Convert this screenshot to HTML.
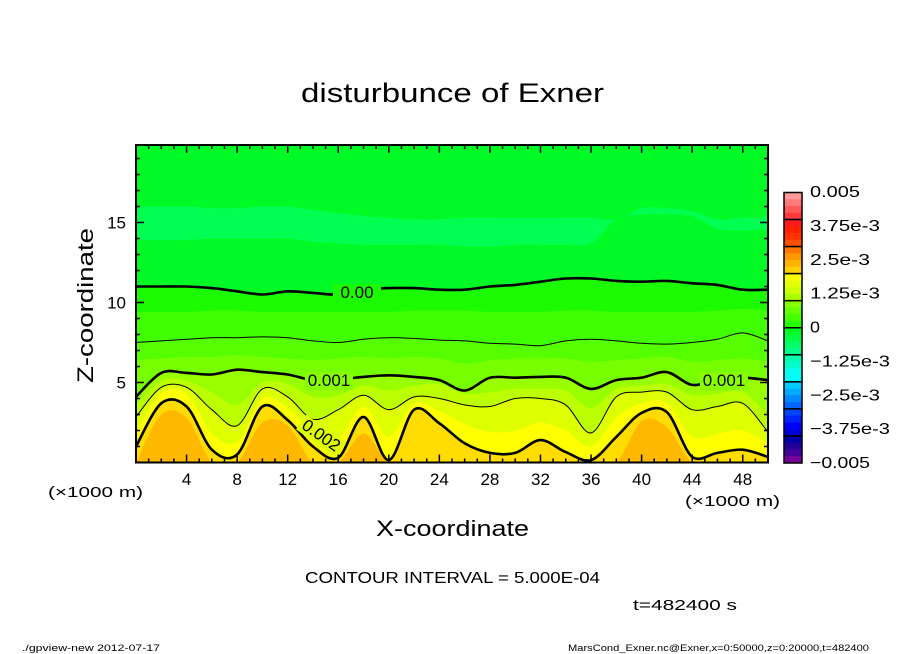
<!DOCTYPE html>
<html><head><meta charset="utf-8">
<style>
html,body{margin:0;padding:0;background:#fff;}
svg{display:block;font-family:"Liberation Sans",sans-serif;}
</style></head>
<body>
<svg id="chart" width="904" height="654" viewBox="0 0 904 654">
<rect x="0" y="0" width="904" height="654" fill="#fff"/>
<text x="301" y="102" textLength="303" lengthAdjust="spacingAndGlyphs" font-size="27">disturbunce of Exner</text>
<g id="field"></g>
<g id="lines"></g>
<g id="clabels"></g>
<g id="axes"></g>
<g id="cbar"></g>
<text x="0" y="0" transform="translate(93,383) rotate(-90)" textLength="155" lengthAdjust="spacingAndGlyphs" font-size="22">Z-coordinate</text>
<text x="376" y="536" textLength="153" lengthAdjust="spacingAndGlyphs" font-size="22">X-coordinate</text>
<text x="48" y="497" textLength="95" lengthAdjust="spacingAndGlyphs" font-size="15">(×1000 m)</text>
<text x="685" y="506" textLength="95" lengthAdjust="spacingAndGlyphs" font-size="15">(×1000 m)</text>
<text x="305" y="583" textLength="295" lengthAdjust="spacingAndGlyphs" font-size="16">CONTOUR INTERVAL = 5.000E-04</text>
<text x="633" y="610" textLength="104" lengthAdjust="spacingAndGlyphs" font-size="15">t=482400 s</text>
<text x="22" y="651" textLength="138" lengthAdjust="spacingAndGlyphs" font-size="9">./gpview-new   2012-07-17</text>
<text x="568" y="651" textLength="301" lengthAdjust="spacingAndGlyphs" font-size="9">MarsCond_Exner.nc@Exner,x=0:50000,z=0:20000,t=482400</text>
</svg>
<script>
// x positions in km (0..50 every 2)
const xs = [0,2,4,6,8,10,12,14,16,18,20,22,24,26,28,30,32,34,36,38,40,42,44,46,48,50];
// contour level heights (km) at each x
const hNegBandTop = [16.0,16.0,16.0,15.9,15.9,16.0,16.0,15.8,15.6,15.4,15.3,15.2,15.2,15.3,15.3,15.3,15.3,15.3,15.3,15.2,15.9,15.9,15.7,15.2,15.3,15.3];
const hNegBandBot = [13.9,13.9,13.9,14.0,14.0,14.0,14.0,13.8,13.7,13.6,13.6,13.6,13.6,13.5,13.5,13.6,13.6,13.6,13.7,15.2,15.5,15.5,15.4,14.6,14.5,14.6];
const h0 = [11.0,11.0,11.0,10.9,10.7,10.5,10.7,10.6,10.5,10.8,10.9,10.9,10.8,10.8,11.0,11.1,11.3,11.5,11.5,11.35,11.3,11.35,11.2,11.1,10.8,10.8];
const h00025 = [9.4,9.4,9.4,9.5,9.5,9.4,9.4,9.4,9.4,9.4,9.4,9.5,9.5,9.5,9.4,9.4,9.4,9.5,9.5,9.4,9.4,9.4,9.4,9.5,9.6,9.5];
const h0005 = [7.5,7.6,7.7,7.8,7.8,7.85,7.8,7.6,7.5,7.7,7.8,7.75,7.65,7.6,7.45,7.4,7.3,7.6,7.7,7.6,7.45,7.4,7.5,7.7,8.1,7.6];
const h00075 = [6.4,6.5,6.6,6.6,6.7,6.6,6.5,6.4,6.5,6.6,6.5,6.6,6.5,6.2,6.4,6.5,6.5,6.5,6.3,6.4,6.5,6.6,6.3,6.4,6.5,6.3];
const h001 = [4.1,5.6,5.6,5.5,5.8,5.65,5.5,5.15,5.2,5.35,5.45,5.35,5.15,4.5,5.3,5.3,5.35,5.3,4.6,5.15,5.3,5.65,4.85,5.2,5.3,5.15];
const h00125 = [3.6,5.1,5.1,4.4,3.6,5.0,4.9,4.1,4.2,4.8,4.5,4.8,4.9,4.3,4.4,4.6,4.6,4.5,3.4,4.6,4.8,4.9,4.2,4.3,4.4,3.0];
const h0015 = [2.85,4.7,4.7,3.3,2.3,4.6,4.1,2.7,3.3,4.2,3.3,4.1,4.0,3.6,3.5,4.0,4.0,3.6,1.85,4.1,4.4,4.4,3.3,3.5,3.7,1.9];
const h00175 = [1.9,4.3,4.3,1.8,1.3,4.0,3.4,1.9,1.5,3.5,1.6,3.7,3.2,2.4,1.9,2.0,2.5,2.0,1.0,2.8,3.7,3.7,1.6,1.8,2.0,1.2];
const h002 = [1.0,3.7,3.5,0.8,0.5,3.5,2.65,1.0,0.3,2.85,0.15,3.3,2.45,1.2,0.6,0.6,1.4,0.65,0.15,1.6,3.1,3.15,0.35,0.6,0.8,0.35];
const h00225 = [0,3.0,2.8,0,0,2.5,2.3,0,0,1.8,0,0,0,0,0,0,0,0,0,0,2.6,2.2,0,0,0,0];
const fillLevels = [h0,h00025,h0005,h00075,h001,h00125,h0015,h00175,h002,h00225];
const fillColors = ['#1cfa00','#40ff00','#55ff00','#77ff00','#99ff00','#bbff00','#ddff00','#ffff00','#ffdc00','#ffb800'];
const lineLevels = [h0,h0005,h001,h0015,h002];
const lineWidths = [2.6,1,2.6,1,2.6];
const xTickLabels = [4,8,12,16,20,24,28,32,36,40,44,48];
const yTickLabels = [5,10,15];
const cbLabels = ['0.005','3.75e-3','2.5e-3','1.25e-3','0','\u22121.25e-3','\u22122.5e-3','\u22123.75e-3','\u22120.005'];
const cbColors = [
 ['#ff9a9a','#ff7a7a','#ff5a5a','#ff3a3a'],
 ['#ff1a1a','#ff2200','#ff3300','#ff5000'],
 ['#ff7700','#ff9900','#ffb400','#ffd000'],
 ['#ffff00','#e5ff00','#ccff00','#aaff00'],
 ['#88ff00','#66ff00','#44ff00','#22ff00'],
 ['#00ff22','#00ff44','#00ff66','#00ff88'],
 ['#00ffaa','#00ffcc','#00ffee','#00ffff'],
 ['#00ccff','#00aaff','#0088ff','#0066ff'],
 ['#0044ff','#0022ff','#0000ff','#0000dd'],
 ['#0000aa','#220099','#440099','#770099']];

const NS='http://www.w3.org/2000/svg';
const L=136,R=768,T=145,B=462.5,XMAX=50,ZMAX=(B-T)/16;
const sx=x=>L+(R-L)*x/XMAX;
const sz=z=>Math.min(B,B-(B-T)*z/ZMAX);
function mk(tag,attrs,parent){const e=document.createElementNS(NS,tag);for(const k in attrs)e.setAttribute(k,attrs[k]);parent.appendChild(e);return e;}
function smooth(pts){
  let d='';
  for(let i=0;i<pts.length-1;i++){
    const p0=pts[Math.max(0,i-1)],p1=pts[i],p2=pts[i+1],p3=pts[Math.min(pts.length-1,i+2)];
    const c1=[p1[0]+(p2[0]-p0[0])/6,Math.min(B,p1[1]+(p2[1]-p0[1])/6)];
    const c2=[p2[0]-(p3[0]-p1[0])/6,Math.min(B,p2[1]-(p3[1]-p1[1])/6)];
    d+='C'+c1[0]+','+c1[1]+' '+c2[0]+','+c2[1]+' '+p2[0]+','+p2[1];
  }
  return d;
}
function curve(h){return xs.map((x,i)=>[sx(x),sz(h[i])]);}
const field=document.getElementById('field'),lines=document.getElementById('lines'),axes=document.getElementById('axes'),cbar=document.getElementById('cbar'),cl=document.getElementById('clabels');
let r=mk('rect',{x:L,y:T,width:R-L,height:B-T,fill:'#00fa26'},field);


const tp=curve(hNegBandTop), bp=curve(hNegBandBot).reverse();
let p=mk('path',{d:'M'+tp[0]+smooth(tp)+'L'+bp[0]+smooth(bp)+'Z',fill:'#00ff50'},field);


fillLevels.forEach((h,k)=>{
  const c=curve(h);
  const d='M'+sx(0)+','+B+'L'+c[0]+smooth(c)+'L'+sx(XMAX)+','+B+'Z';
  const e=mk('path',{d:d,fill:fillColors[k]},field);
  
  
});
lineLevels.forEach((h,k)=>{
  const c=curve(h);
  const e=mk('path',{d:'M'+c[0]+smooth(c),fill:'none',stroke:'#000','stroke-width':lineWidths[k],'stroke-linejoin':'round'},lines);
  
  
});
[['0.00',357,298,0,'#1cfa00'],['0.001',329,386,0,'#88ff00'],['0.001',724,386,0,'#88ff00'],['0.002',318,440,35,'#ddff00']].forEach(a=>{
  const g=mk('rect',{x:a[1]-24,y:a[2]-14,width:48,height:18,fill:a[4],transform:'rotate('+a[3]+' '+a[1]+' '+a[2]+')'},cl);
  
  
  const t=mk('text',{x:a[1],y:a[2],'font-size':17,'text-anchor':'middle',transform:'rotate('+a[3]+' '+a[1]+' '+a[2]+')'},cl);
  t.textContent=a[0];
  
  
});
let f=mk('rect',{x:L,y:T,width:R-L,height:B-T,fill:'none',stroke:'#000','stroke-width':2},axes);


for(let x=1;x<XMAX;x++){
  const len=x%4===0?8:4;
  const a=mk('line',{x1:sx(x),x2:sx(x),y1:B,y2:B-len,stroke:'#000','stroke-width':1.5},axes);
  
  
  const b=mk('line',{x1:sx(x),x2:sx(x),y1:T,y2:T+len,stroke:'#000','stroke-width':1.5},axes);
  
  
}
for(let z=1;z<ZMAX;z++){
  const len=z%5===0?8:4;
  const a=mk('line',{x1:L,x2:L+len,y1:sz(z),y2:sz(z),stroke:'#000','stroke-width':1.5},axes);
  
  
  const b=mk('line',{x1:R,x2:R-len,y1:sz(z),y2:sz(z),stroke:'#000','stroke-width':1.5},axes);
  
  
}
xTickLabels.forEach(v=>{
  const t=mk('text',{x:sx(v),y:485,'text-anchor':'middle','font-size':17},axes);
  t.textContent=v;
  
  
});
yTickLabels.forEach(v=>{
  const t=mk('text',{x:126,y:sz(v)+6,'text-anchor':'end','font-size':17},axes);
  t.textContent=v;
  
  
});
const CX=784,CW=18,CT=192.5,CB=463;
const bh=(CB-CT)/cbColors.length;
cbColors.forEach((seg,i)=>{
  seg.forEach((c,j)=>{
    const e=mk('rect',{x:CX,y:CT+i*bh+j*bh/4,width:CW,height:bh/4+0.5,fill:c},cbar);
    
    
  });
  const o=mk('rect',{x:CX,y:CT+i*bh,width:CW,height:bh,fill:'none',stroke:'#000','stroke-width':1.5},cbar);
  
  
});
cbLabels.forEach((s,i)=>{
  const t=mk('text',{x:810,y:196+i*(461-190)/(cbLabels.length-1)+1,'font-size':16},cbar);
  t.textContent=s;
  t.setAttribute('textLength',s.length*10);
  t.setAttribute('lengthAdjust','spacingAndGlyphs');
  
  
});
</script>
</body></html>
